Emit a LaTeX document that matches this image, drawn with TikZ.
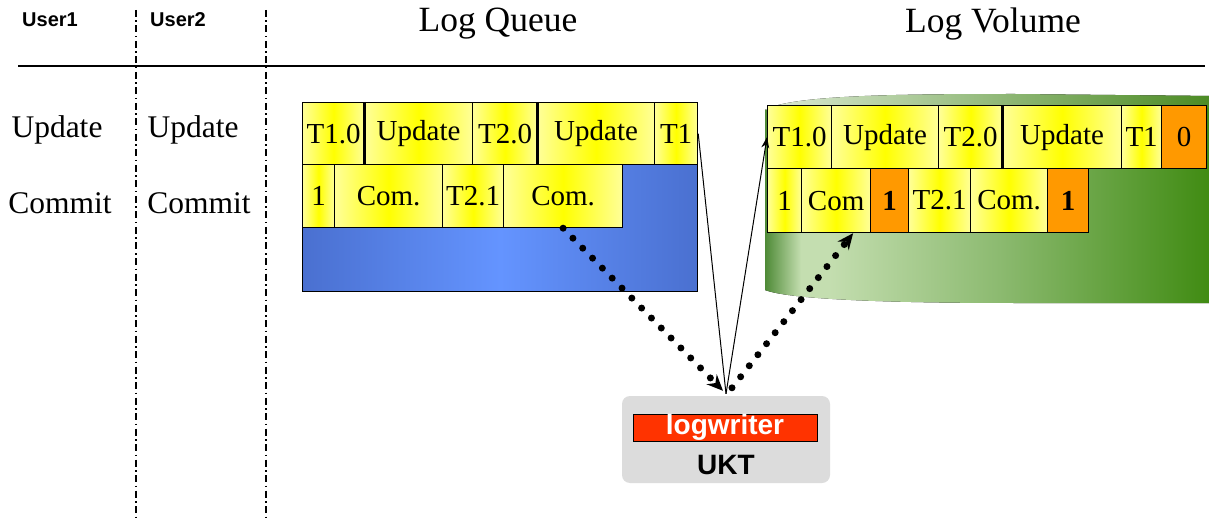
\documentclass[tikz,border=0pt]{standalone}
\usepackage{fontspec}
\setmainfont{Liberation Serif}
\newfontfamily\sansf{Liberation Sans}
\usetikzlibrary{arrows.meta}
\newcommand\myfs[1]{\fontsize{#1}{#1}\selectfont}
\definecolor{qblue}{HTML}{4A70D0}
\definecolor{qbluec}{HTML}{6494FF}
\definecolor{cellY}{HTML}{FFFF00}
\definecolor{cellYp}{HTML}{FFFF99}
\definecolor{orng}{HTML}{FF9900}
\definecolor{ukgrey}{HTML}{DCDCDC}
\definecolor{lwred}{HTML}{FF3300}
\definecolor{gA}{HTML}{4E8A36}
\definecolor{gL}{HTML}{C4DEB0}
\definecolor{gM}{HTML}{8CBA70}
\definecolor{gD}{HTML}{3E8A10}
\definecolor{tA}{HTML}{DCEAD4}
\definecolor{tD}{HTML}{4A8A22}
\pgfdeclarehorizontalshading{cylshade}{100bp}{color(0bp)=(gA); color(25bp)=(gA); color(29bp)=(gL); color(32bp)=(gL); color(51bp)=(gM); color(75bp)=(gD); color(100bp)=(gD)}
\tikzset{
  cell/.style={draw=black, line width=1.2pt, left color=cellYp, right color=cellYp, middle color=cellY, font=\myfs{29}, inner sep=0pt, anchor=north west},
  ocell/.style={draw=black, line width=1.2pt, fill=orng, font=\myfs{29}\bfseries, inner sep=0pt, anchor=north west},
  divider/.style={line width=1.3pt, dash pattern=on 7pt off 3.5pt on 1.5pt off 3.5pt},
  usertxt/.style={font=\sansf\bfseries\myfs{20}},
  headtxt/.style={font=\myfs{35.5}},
  optxt/.style={font=\myfs{31.5}},
  solidln/.style={line width=1pt},
  dotln/.style={line width=7pt, line cap=round, dash pattern=on 0pt off 14pt},
}
\begin{document}
\begin{tikzpicture}[x=1pt,y=-1pt]
\useasboundingbox (0,0) rectangle (1209,521);
\fill[white] (0,0) rectangle (1209,521);
% dividers
\draw[divider] (136,10) -- (136,521);
\draw[divider] (266,10) -- (266,521);
\draw[line width=1.3pt] (18,66) -- (1205,66);
% headings
\node[usertxt] (u1) at (50,20) {User1};
\node[usertxt] (u2) at (178,20) {User2};
\node[headtxt] (hq) at (498,24) {Log Queue};
\node[headtxt] (hv) at (993,24) {Log Volume};
\node[optxt] (up1) at (57,130) {Update};
\node[optxt] (up2) at (193,130) {Update};
\node[optxt] (cm1) at (60,203) {Commit};
\node[optxt] (cm2) at (199,203) {Commit};
% log queue
\node[draw=black, line width=1.2pt, left color=qblue, right color=qblue, middle color=qbluec, minimum width=395pt, minimum height=189pt, anchor=north west, inner sep=0pt] (queue) at (302,102) {};
\node[cell, minimum width=62pt, minimum height=62pt] (q11) at (302,102) {T1.0};
\node[cell, minimum width=108pt, minimum height=62pt] (q12) at (364,102) {Update};
\node[cell, minimum width=65pt, minimum height=62pt] (q13) at (472,102) {T2.0};
\node[cell, minimum width=117pt, minimum height=62pt] (q14) at (537,102) {Update};
\node[cell, minimum width=43pt, minimum height=62pt] (q15) at (654,102) {T1};
\node[cell, minimum width=32pt, minimum height=63pt] (q21) at (302,164) {1};
\node[cell, minimum width=108pt, minimum height=63pt] (q22) at (334,164) {Com.};
\node[cell, minimum width=61pt, minimum height=63pt] (q23) at (442,164) {T2.1};
\node[cell, minimum width=119pt, minimum height=63pt] (q24) at (503,164) {Com.};
\draw[line width=3pt] (q12.north west) -- (q12.south west);
\draw[line width=3pt] (q14.north west) -- (q14.south west);
% log volume cylinder
\fill[left color=tA, right color=tD] (765,110) .. controls (790,95) and (900,94) .. (1015,94) -- (1215,96) -- (1215,120) -- (765,120) -- cycle;
\fill[shading=cylshade] (765,110) -- (765,290) .. controls (790,300) and (900,303) .. (1015,303) -- (1215,303) -- (1215,108) -- cycle;
\node[cell, minimum width=64pt, minimum height=63pt] (v11) at (767,105) {T1.0};
\node[cell, minimum width=107pt, minimum height=63pt] (v12) at (831,105) {Update};
\node[cell, minimum width=64pt, minimum height=63pt] (v13) at (938,105) {T2.0};
\node[cell, minimum width=119pt, minimum height=63pt] (v14) at (1002,105) {Update};
\node[cell, minimum width=40pt, minimum height=63pt] (v15) at (1121,105) {T1};
\node[ocell, minimum width=45pt, minimum height=63pt, font=\myfs{29}] (v16) at (1161,105) {0};
\node[cell, minimum width=34pt, minimum height=64pt] (v21) at (767,168) {1};
\node[cell, minimum width=69pt, minimum height=64pt] (v22) at (801,168) {Com};
\node[ocell, minimum width=38pt, minimum height=64pt] (v23) at (870,168) {1};
\node[cell, minimum width=62pt, minimum height=64pt] (v24) at (908,168) {T2.1};
\node[cell, minimum width=77pt, minimum height=64pt] (v25) at (970,168) {Com.};
\node[ocell, minimum width=41pt, minimum height=64pt] (v26) at (1047,168) {1};
\draw[line width=3pt] (v14.north west) -- (v14.south west);
% UKT
\node[fill=ukgrey, rounded corners=8pt, minimum width=208pt, minimum height=87pt, inner sep=0pt] (ukt) at (726,439.5) {};
\node[draw=black, line width=0.8pt, fill=lwred, minimum width=184pt, minimum height=27pt, inner sep=0pt, text=white, font=\sansf\bfseries\myfs{28}] (lw) at (725,427.5) {logwriter};
\node[font=\sansf\bfseries\myfs{28}] (ukttxt) at (726,465) {UKT};
\coordinate (hub) at ([yshift=2pt]ukt.north);
% connectors
\draw[solidln] (q15.east) -- (hub);
\draw[solidln, -{Stealth[length=11pt,width=8pt]}] (hub) -- (v11.west);
\draw[dotln, -{Stealth[length=16pt,width=14pt]}] (q24.south) -- ([shift={(-3pt,3pt)}]hub);
\draw[dotln, -{Stealth[length=16pt,width=14pt]}] ([shift={(6pt,6pt)}]hub) -- ([xshift=17pt]v22.south);
\end{tikzpicture}
\end{document}
